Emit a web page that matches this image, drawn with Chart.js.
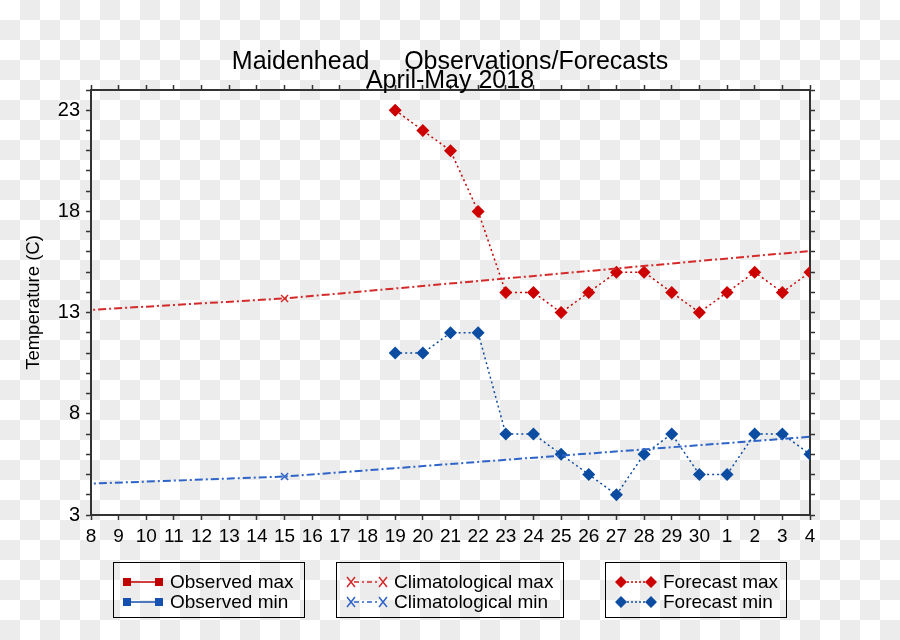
<!DOCTYPE html>
<html>
<head>
<meta charset="utf-8">
<script src="https://cdn.jsdelivr.net/npm/chart.js@4"></script>
<style>
  html, body { margin: 0; padding: 0; }
  body {
    width: 900px; height: 640px; position: relative; overflow: hidden;
    font-family: "Liberation Sans", Arial, sans-serif; color: #000;
    background: repeating-conic-gradient(#ececec 0 25%, #fff 0 50%) 0 0 / 40px 40px;
  }
  #chart { position: absolute; left: 0; top: 0; }
  .title { position: absolute; left: 0; width: 900px; text-align: center; font-size: 25px; line-height: 29px; white-space: pre; }
  .legbox { position: absolute; top: 562px; height: 56px; border: 1.5px solid #000; box-sizing: border-box; }
  .row { position: absolute; font-size: 19px; line-height: 20px; white-space: nowrap; }
  .legbox svg { position: absolute; }
</style>
</head>
<body>
<canvas id="chart" width="900" height="640"></canvas>

<div class="title" style="top:46px">Maidenhead     Observations/Forecasts</div>
<div class="title" style="top:65px">April-May 2018</div>

<!-- legend -->
<div class="legbox" style="left:113px;width:192px">
  <svg style="left:9px;top:14px" width="40" height="10">
    <line x1="4" y1="5" x2="36" y2="5" stroke="#c00000" stroke-width="1.5"/>
    <rect x="0" y="1" width="8" height="8" fill="#c00000"/><rect x="32" y="1" width="8" height="8" fill="#c00000"/>
  </svg>
  <div class="row" style="left:56px;top:9px">Observed max</div>
  <svg style="left:9px;top:34px" width="40" height="10">
    <line x1="4" y1="5" x2="36" y2="5" stroke="#1650b0" stroke-width="1.5"/>
    <rect x="0" y="1" width="8" height="8" fill="#1650b0"/><rect x="32" y="1" width="8" height="8" fill="#1650b0"/>
  </svg>
  <div class="row" style="left:56px;top:29px">Observed min</div>
</div>

<div class="legbox" style="left:336px;width:228px">
  <svg style="left:9px;top:13px" width="42" height="12">
    <line x1="8" y1="6" x2="34" y2="6" stroke="#d42a2a" stroke-width="1.5" stroke-dasharray="5 3 2 3"/>
    <path d="M1 1 L9 11 M9 1 L1 11 M33 1 L41 11 M41 1 L33 11" stroke="#d42a2a" stroke-width="1.5" fill="none"/>
  </svg>
  <div class="row" style="left:57px;top:9px">Climatological max</div>
  <svg style="left:9px;top:33px" width="42" height="12">
    <line x1="8" y1="6" x2="34" y2="6" stroke="#2e64c8" stroke-width="1.5" stroke-dasharray="5 3 2 3"/>
    <path d="M1 1 L9 11 M9 1 L1 11 M33 1 L41 11 M41 1 L33 11" stroke="#2e64c8" stroke-width="1.5" fill="none"/>
  </svg>
  <div class="row" style="left:57px;top:29px">Climatological min</div>
</div>

<div class="legbox" style="left:605px;width:182px">
  <svg style="left:9px;top:12px" width="42" height="14">
    <line x1="8" y1="7" x2="34" y2="7" stroke="#cc0000" stroke-width="1.5" stroke-dasharray="2 2"/>
    <path d="M6 1 L12 7 L6 13 L0 7 Z M36 1 L42 7 L36 13 L30 7 Z" fill="#cc0000"/>
  </svg>
  <div class="row" style="left:57px;top:9px">Forecast max</div>
  <svg style="left:9px;top:32px" width="42" height="14">
    <line x1="8" y1="7" x2="34" y2="7" stroke="#0c4da2" stroke-width="1.5" stroke-dasharray="2 2"/>
    <path d="M6 1 L12 7 L6 13 L0 7 Z M36 1 L42 7 L36 13 L30 7 Z" fill="#0c4da2"/>
  </svg>
  <div class="row" style="left:57px;top:29px">Forecast min</div>
</div>

<script>
// days shown on the x axis: 8 April .. 4 May
const dayLabels = ['8','9','10','11','12','13','14','15','16','17','18','19','20','21','22',
  '23','24','25','26','27','28','29','30','1','2','3','4'];
const yLabels = [3, 8, 13, 18, 23];

// forecasts start on 19 April (index 11)
const forecastStart = 11;
const forecastMax = [23, 22, 21, 18, 14, 14, 13, 14, 15, 15, 14, 13, 14, 15, 14, 15];
const forecastMin = [11, 11, 12, 12, 7, 7, 6, 5, 4, 6, 7, 5, 5, 7, 7, 6];

// climatology at mid-month: 15 Mar, 15 Apr, 15 May (days from 8 April)
const climDays = [-24, 7, 37];
const climMax = [11.2, 13.7, 17.4];
const climMin = [3.35, 4.9, 8.0];

const RED = '#cc0000', BLUE = '#0c4da2';
const CRED = '#d42a2a', CBLUE = '#2e64c8';
const AXIS = '#333';

const fcPoints = arr => arr.map((v, i) => ({ x: forecastStart + i, y: v }));
const climPoints = arr => arr.map((v, i) => ({ x: climDays[i], y: v }));
// only the 15 April climatology point gets a marker inside the plot
const climRadius = climDays.map(d => (d >= 0 && d <= dayLabels.length - 1) ? 5 : 0);

function axisGrid() {
  return { drawOnChartArea: false, drawTicks: true, tickLength: 5, tickColor: AXIS, tickWidth: 1.5 };
}

new Chart(document.getElementById('chart').getContext('2d'), {
  type: 'line',
  data: {
    datasets: [
      {
        label: 'Climatological max',
        data: climPoints(climMax),
        borderColor: CRED,
        borderWidth: 2,
        borderDash: [8, 3, 2, 3],
        pointStyle: 'crossRot',
        pointRadius: climRadius,
        pointBorderColor: CRED,
        pointBorderWidth: 1.5,
      },
      {
        label: 'Climatological min',
        data: climPoints(climMin),
        borderColor: CBLUE,
        borderWidth: 2,
        borderDash: [8, 3, 2, 3],
        pointStyle: 'crossRot',
        pointRadius: climRadius,
        pointBorderColor: CBLUE,
        pointBorderWidth: 1.5,
      },
      {
        label: 'Forecast max',
        data: fcPoints(forecastMax),
        borderColor: RED,
        borderWidth: 1.5,
        borderDash: [2, 3],
        pointStyle: 'rectRot',
        pointRadius: 6.5,
        pointBackgroundColor: RED,
        pointBorderWidth: 0,
      },
      {
        label: 'Forecast min',
        data: fcPoints(forecastMin),
        borderColor: BLUE,
        borderWidth: 1.5,
        borderDash: [2, 3],
        pointStyle: 'rectRot',
        pointRadius: 6.5,
        pointBackgroundColor: BLUE,
        pointBorderWidth: 0,
      },
    ]
  },
  options: {
    responsive: false,
    animation: false,
    events: [],
    layout: { padding: 0 },
    plugins: { legend: { display: false }, tooltip: { enabled: false }, title: { display: false } },
    scales: {
      x: {
        type: 'linear', position: 'bottom', min: 0, max: dayLabels.length - 1,
        grid: axisGrid(),
        border: { color: AXIS, width: 2 },
        ticks: {
          stepSize: 1, autoSkip: false, maxRotation: 0, padding: 5, color: '#000',
          font: { family: 'Liberation Sans', size: 19 },
          callback: v => dayLabels[v]
        },
        afterFit: s => { s.height = 125; }
      },
      x2: {
        type: 'linear', position: 'top', min: 0, max: dayLabels.length - 1,
        grid: axisGrid(),
        border: { color: AXIS, width: 2 },
        ticks: { stepSize: 1, autoSkip: false, display: false },
        afterFit: s => { s.height = 90; }
      },
      y: {
        type: 'linear', position: 'left', min: 3, max: 24,
        grid: axisGrid(),
        border: { color: AXIS, width: 2 },
        ticks: {
          stepSize: 1, autoSkip: false, padding: 6, color: '#000',
          font: { family: 'Liberation Sans', size: 20 },
          callback: v => yLabels.includes(v) ? String(v) : ''
        },
        title: {
          display: true, text: 'Temperature (C)', color: '#000',
          font: { family: 'Liberation Sans', size: 18.5 },
          padding: { top: 23, bottom: 0 }
        },
        afterFit: s => { s.width = 91; }
      },
      y2: {
        type: 'linear', position: 'right', min: 3, max: 24,
        grid: axisGrid(),
        border: { color: AXIS, width: 2 },
        ticks: { stepSize: 1, autoSkip: false, display: false },
        afterFit: s => { s.width = 90; }
      }
    }
  }
});
</script>
</body>
</html>
